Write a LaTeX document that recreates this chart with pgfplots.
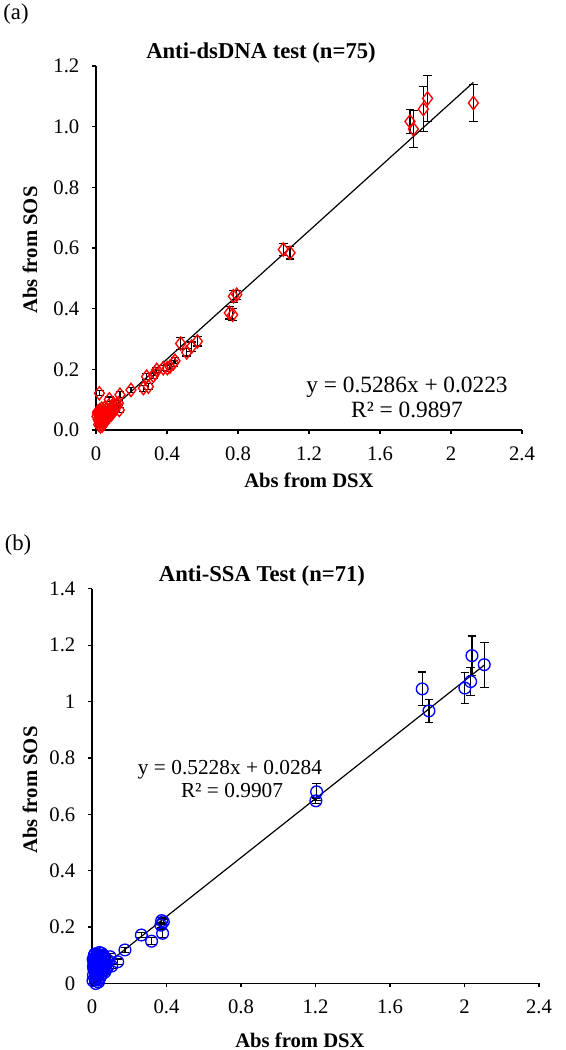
\documentclass[border=0pt]{standalone}
\usepackage{pgfplots}
\pgfplotsset{compat=1.18}
\usepackage{pgfplotstable}
\usepackage{fontspec}
\setmainfont{Liberation Serif}

\pgfplotstableread{
x y e
1.769 1.017 0.04
1.788 0.992 0.06
1.844 1.058 0.075
1.868 1.093 0.075
2.126 1.078 0.06
1.055 0.595 0.02
1.093 0.584 0.02
0.751 0.386 0.02
0.770 0.380 0.02
0.774 0.441 0.02
0.793 0.446 0.015
0.477 0.285 0.02
0.511 0.256 0.012
0.539 0.275 0.015
0.571 0.292 0.015
0.402 0.204 0.01
0.436 0.220 0.01
0.445 0.228 0.01
0.417 0.209 0.01
0.379 0.204 0.008
0.332 0.187 0.008
0.342 0.198 0.008
0.323 0.179 0.008
0.285 0.176 0.01
0.295 0.143 0.01
0.267 0.138 0.01
0.197 0.132 0.008
0.135 0.116 0.01
0.131 0.066 0.008
0.117 0.083 0.008
0.075 0.101 0.008
0.019 0.121 0.008
0.126 0.088 0.008
0.005 0.045 0.005
0.008 0.055 0.005
0.010 0.060 0.005
0.012 0.035 0.005
0.015 0.050 0.005
0.018 0.028 0.005
0.020 0.065 0.005
0.022 0.042 0.005
0.025 0.030 0.005
0.028 0.055 0.005
0.030 0.020 0.005
0.032 0.070 0.005
0.035 0.038 0.005
0.038 0.048 0.005
0.040 0.025 0.005
0.042 0.060 0.005
0.045 0.033 0.005
0.048 0.072 0.005
0.050 0.045 0.005
0.052 0.040 0.005
0.055 0.055 0.005
0.058 0.035 0.005
0.060 0.065 0.005
0.062 0.048 0.005
0.065 0.042 0.005
0.068 0.058 0.005
0.070 0.050 0.005
0.072 0.080 0.005
0.075 0.045 0.005
0.078 0.062 0.005
0.080 0.055 0.005
0.085 0.070 0.005
0.088 0.052 0.005
0.090 0.078 0.005
0.095 0.060 0.005
0.100 0.085 0.005
0.105 0.065 0.005
0.110 0.072 0.005
0.015 0.018 0.005
0.025 0.012 0.005
0.035 0.015 0.005
0.045 0.022 0.005
}\dsdna

\pgfplotstableread{
x y e
1.773 1.045 0.06
1.809 0.967 0.04
2.002 1.048 0.055
2.033 1.071 0.05
2.040 1.163 0.07
2.106 1.131 0.08
1.206 0.680 0.03
1.202 0.648 0.01
0.374 0.223 0.01
0.383 0.219 0.01
0.370 0.207 0.01
0.379 0.178 0.015
0.320 0.150 0.012
0.265 0.172 0.008
0.177 0.119 0.008
0.138 0.077 0.01
0.106 0.062 0.01
0.097 0.095 0.01
0.052 0.107 0.008
0.005 0.010 0.005
0.008 0.030 0.005
0.010 0.050 0.005
0.010 0.070 0.005
0.012 0.090 0.005
0.012 0.100 0.005
0.015 0.020 0.005
0.015 0.060 0.005
0.018 0.080 0.005
0.018 0.040 0.005
0.020 0.000 0.005
0.020 0.095 0.005
0.022 0.055 0.005
0.022 0.015 0.005
0.025 0.075 0.005
0.025 0.035 0.005
0.028 0.065 0.005
0.028 0.105 0.005
0.030 0.045 0.005
0.030 0.025 0.005
0.032 0.085 0.005
0.035 0.005 0.005
0.035 0.060 0.005
0.038 0.040 0.005
0.038 0.092 0.005
0.040 0.070 0.005
0.042 0.020 0.005
0.045 0.050 0.005
0.045 0.100 0.005
0.048 0.080 0.005
0.050 0.030 0.005
0.052 0.062 0.005
0.055 0.045 0.005
0.058 0.090 0.005
0.060 0.070 0.005
0.062 0.055 0.005
0.065 0.080 0.005
0.068 0.040 0.005
0.070 0.065 0.005
0.075 0.050 0.005
0.078 0.085 0.005
0.080 0.070 0.005
0.085 0.060 0.005
0.090 0.080 0.005
0.006 0.085 0.005
0.008 0.060 0.005
0.014 0.045 0.005
0.016 0.105 0.005
0.024 0.088 0.005
0.032 0.012 0.005
0.040 0.110 0.005
0.060 0.100 0.005
}\ssa

\pgfplotsset{
  myaxis/.style={
    scale only axis,
    axis lines*=left,
    axis line style={line width=1pt},
    tick align=outside,
    major tick length=3pt,
    tick style={line width=1pt, black},
    tick label style={font=\fontsize{15.5}{18}\selectfont},
    xticklabel style={yshift=-6pt},
    yticklabel style={xshift=-6pt},
    clip=false,
    xmin=0, xmax=2.4,
    xtick={0,0.4,0.8,1.2,1.6,2,2.4},
    xticklabels={0,0.4,0.8,1.2,1.6,2,2.4},
  },
  errstyle/.style={
    error bars/.cd, y dir=both, y explicit,
    error bar style={black, line width=0.9pt},
    error mark options={rotate=90, black, mark size=3.2pt, line width=0.9pt},
  },
}

\begin{document}
\begin{tikzpicture}[x=0.75pt,y=0.75pt]
\path[use as bounding box] (0,0) rectangle (565,1050);

% Panel (a)
\begin{axis}[myaxis,
  at={(72pt,465pt)}, anchor=south west,
  width=319.5pt, height=273pt,
  ymin=0, ymax=1.2,
  ytick={0,0.2,0.4,0.6,0.8,1.0,1.2},
  yticklabels={0.0,0.2,0.4,0.6,0.8,1.0,1.2},
]
\addplot[only marks, red, mark=diamond, mark size=5pt, mark options={line width=1pt}, errstyle]
  table[x=x, y=y, y error=e] {\dsdna};
\addplot[black, line width=0.9pt] coordinates {(0.013,0.0292) (2.126,1.146)};
\end{axis}

% Panel (b)
\begin{axis}[myaxis,
  at={(69pt,49.875pt)}, anchor=south west,
  width=335.25pt, height=296pt,
  ymin=0, ymax=1.4,
  ytick={0,0.2,0.4,0.6,0.8,1,1.2,1.4},
  yticklabels={0,0.2,0.4,0.6,0.8,1,1.2,1.4},
]
\addplot[only marks, blue, mark=o, mark size=4.4pt, mark options={line width=1pt}, errstyle]
  table[x=x, y=y, y error=e] {\ssa};
\addplot[black, line width=0.9pt] coordinates {(0.007,0.0321) (2.106,1.1294)};
\end{axis}

% texts
\node[font=\fontsize{17}{20}\selectfont] at (16,1036) {(a)};
\node[font=\fontsize{17}{20}\selectfont] at (18,505) {(b)};
\node[font=\bfseries\fontsize{17}{20}\selectfont] at (261,997) {Anti-dsDNA test (n=75)};
\node[font=\bfseries\fontsize{17}{20}\selectfont] at (262,474) {Anti-SSA Test (n=71)};
\node[font=\bfseries\fontsize{15.5}{18}\selectfont, rotate=90] at (30,800) {Abs from SOS};
\node[font=\bfseries\fontsize{15.5}{18}\selectfont, rotate=90] at (30,260) {Abs from SOS};
\node[font=\bfseries\fontsize{15.5}{18}\selectfont] at (309,570) {Abs from DSX};
\node[font=\bfseries\fontsize{15.5}{18}\selectfont] at (300,10) {Abs from DSX};
\node[font=\fontsize{17.5}{20}\selectfont] at (407,663) {y = 0.5286x + 0.0223};
\node[font=\fontsize{17.5}{20}\selectfont] at (407,640) {R² = 0.9897};
\node[font=\fontsize{16}{19}\selectfont] at (230,280) {y = 0.5228x + 0.0284};
\node[font=\fontsize{16}{19}\selectfont] at (232,259) {R² = 0.9907};
\end{tikzpicture}
\end{document}
